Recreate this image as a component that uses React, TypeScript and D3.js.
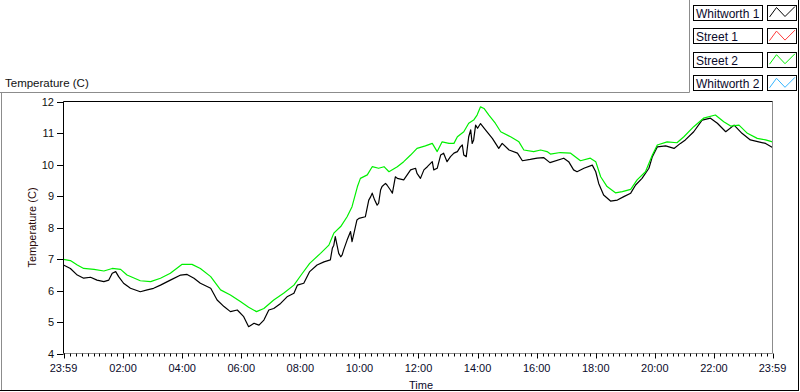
import React from "react";
import * as d3 from "d3";

// ---- data (minutes elapsed since 23:59 start) ----
const whitworth1Minutes = [0, 14, 28, 41, 55, 68, 82, 92, 99, 106, 112, 122, 136, 156, 170, 183, 197, 217, 238, 251, 265, 278, 299, 312, 326, 339, 353, 366, 376, 387, 397, 407, 417, 427, 441, 454, 468, 475, 488, 500, 515, 529, 542, 546, 549, 552, 559, 563, 566, 569, 576, 583, 586, 590, 596, 600, 613, 620, 624, 627, 632, 637, 640, 644, 647, 654, 657, 664, 668, 674, 678, 691, 705, 715, 718, 725, 732, 739, 749, 752, 759, 766, 772, 779, 786, 793, 800, 806, 810, 813, 818, 823, 827, 830, 833, 837, 841, 847, 857, 871, 884, 891, 905, 922, 932, 948, 962, 975, 988, 1016, 1026, 1036, 1043, 1057, 1074, 1081, 1087, 1097, 1111, 1125, 1138, 1152, 1162, 1175, 1189, 1196, 1206, 1223, 1240, 1253, 1263, 1280, 1297, 1314, 1328, 1345, 1362, 1378, 1395, 1412, 1426, 1440];
const whitworth1Temps = [6.81, 6.70, 6.49, 6.39, 6.42, 6.33, 6.28, 6.33, 6.55, 6.60, 6.44, 6.23, 6.07, 5.96, 6.02, 6.07, 6.17, 6.33, 6.49, 6.51, 6.39, 6.23, 6.07, 5.70, 5.49, 5.33, 5.38, 5.17, 4.85, 4.96, 4.90, 5.06, 5.38, 5.43, 5.59, 5.80, 5.91, 6.17, 6.23, 6.60, 6.81, 6.91, 6.97, 7.34, 7.44, 7.71, 7.18, 7.07, 7.13, 7.29, 7.60, 7.87, 7.55, 7.82, 8.24, 8.29, 8.34, 8.87, 8.98, 9.09, 8.87, 8.71, 8.77, 9.19, 9.30, 9.40, 9.35, 9.19, 9.09, 9.61, 9.56, 9.51, 9.83, 9.88, 9.72, 9.56, 9.83, 9.93, 10.09, 9.83, 9.88, 10.30, 10.36, 10.09, 10.25, 10.36, 10.41, 10.56, 10.62, 10.30, 10.25, 10.88, 11.10, 10.67, 10.78, 11.25, 11.15, 11.30, 11.10, 10.83, 10.51, 10.67, 10.46, 10.36, 10.12, 10.16, 10.20, 10.22, 10.06, 10.20, 10.09, 9.83, 9.77, 9.88, 9.98, 9.77, 9.40, 9.03, 8.84, 8.87, 8.98, 9.09, 9.35, 9.56, 9.88, 10.25, 10.56, 10.59, 10.51, 10.67, 10.78, 11.04, 11.41, 11.47, 11.31, 11.04, 11.25, 10.99, 10.78, 10.72, 10.67, 10.54];

const street2Minutes = [0, 14, 28, 41, 62, 82, 99, 116, 129, 156, 177, 197, 217, 241, 261, 278, 299, 319, 339, 360, 376, 392, 407, 427, 447, 468, 483, 500, 522, 539, 549, 563, 576, 586, 597, 603, 617, 627, 640, 651, 661, 678, 691, 705, 718, 735, 749, 759, 769, 783, 793, 800, 813, 823, 833, 840, 847, 854, 864, 877, 888, 908, 925, 935, 955, 969, 982, 989, 1009, 1030, 1050, 1070, 1081, 1091, 1104, 1121, 1135, 1152, 1165, 1182, 1196, 1206, 1226, 1246, 1260, 1280, 1300, 1324, 1341, 1355, 1372, 1389, 1409, 1426, 1440];
const street2Temps = [6.99, 6.95, 6.81, 6.70, 6.67, 6.62, 6.70, 6.67, 6.49, 6.31, 6.28, 6.39, 6.55, 6.83, 6.83, 6.70, 6.44, 6.02, 5.86, 5.64, 5.47, 5.33, 5.43, 5.70, 5.91, 6.17, 6.50, 6.86, 7.18, 7.44, 7.82, 8.03, 8.34, 8.66, 9.30, 9.56, 9.67, 9.93, 9.88, 9.93, 9.77, 9.93, 10.09, 10.30, 10.51, 10.59, 10.67, 10.41, 10.72, 10.67, 10.67, 10.88, 11.04, 11.31, 11.41, 11.57, 11.83, 11.78, 11.57, 11.31, 11.04, 10.88, 10.72, 10.46, 10.41, 10.46, 10.41, 10.33, 10.38, 10.36, 10.12, 10.20, 10.09, 9.61, 9.30, 9.10, 9.14, 9.21, 9.51, 9.77, 10.30, 10.62, 10.72, 10.69, 10.88, 11.20, 11.47, 11.57, 11.36, 11.22, 11.25, 10.99, 10.83, 10.78, 10.72];

const legendNames = ["Whitworth 1", "Street 1", "Street 2", "Whitworth 2"];
const legendColors = ["#000000", "#ff3b3b", "#00f000", "#33b5ff"];

const xTickLabels = ["23:59", "02:00", "04:00", "06:00", "08:00", "10:00", "12:00", "14:00", "16:00", "18:00", "20:00", "22:00", "23:59"];
const yTickValues = [4, 5, 6, 7, 8, 9, 10, 11, 12];

const FONT = "'Liberation Sans', Arial, sans-serif";

export default function App() {
  const W = 800, H = 392;
  const plot = { left: 63.5, right: 772.5, top: 101.5, bottom: 353.5 };
  const start = new Date(2024, 0, 1, 23, 59);
  const end = new Date(start.getTime() + 1440 * 60000);
  const toDate = (m: number) => new Date(start.getTime() + m * 60000);

  const x = d3.scaleTime().domain([start, end]).range([plot.left, plot.right]);
  const y = d3.scaleLinear().domain([4, 12]).range([plot.bottom, plot.top]);

  const majorDates = xTickLabels.map((lab, i) => {
    if (i === 0) return start;
    if (i === xTickLabels.length - 1) return end;
    const [hh, mm] = lab.split(":").map(Number);
    return new Date(2024, 0, 2, hh, mm);
  });
  const minorDates = d3.timeMinute.every(12)!.range(start, end);

  const line = d3
    .line<[number, number]>()
    .x((d) => x(toDate(d[0])))
    .y((d) => y(d[1]));

  const w1 = whitworth1Minutes.map((m, i) => [m, whitworth1Temps[i]] as [number, number]);
  const s2 = street2Minutes.map((m, i) => [m, street2Temps[i]] as [number, number]);

  const legendX = 693.5;
  const legendRow = 23.6;

  return (
    <svg
      width={W}
      height={H}
      style={{ position: "absolute", left: 0, top: 0, background: "#fff" }}
      fontFamily={FONT}
    >
      <rect x={0} y={0} width={W} height={H} fill="#fff" />
      {/* outer panel */}
      <line x1={0} x2={689.5} y1={92.5} y2={92.5} stroke="#8c8c8c" />
      <line x1={1.5} x2={1.5} y1={92.5} y2={390.5} stroke="#8c8c8c" />
      <line x1={689.5} x2={689.5} y1={0} y2={92.5} stroke="#8c8c8c" />
      <line x1={0} x2={799} y1={390.5} y2={390.5} stroke="#000" />
      <line x1={798.5} x2={798.5} y1={0} y2={391} stroke="#000" />

      <text x={5} y={87} fontSize={11.5} fill="#111">Temperature (C)</text>

      {/* legend */}
      {legendNames.map((name, i) => {
        const top = 4.5 + i * legendRow;
        const sx = 767.5;
        const pts: [number, number][] = [
          [sx + 2, top + 12.5],
          [sx + 9, top + 3],
          [sx + 17.5, top + 12],
          [sx + 27.5, top + 2],
        ];
        return (
          <g key={name}>
            <rect x={legendX} y={Math.round(top) + 0.5} width={69} height={15} fill="#fff" stroke="#000" />
            <text x={legendX + 2.5} y={Math.round(top) + 12.5} fontSize={12} fill="#0a0a2a">{name}</text>
            <rect x={sx} y={Math.round(top) + 0.5} width={29} height={15} fill="#fff" stroke="#000" />
            <path d={d3.line()(pts) || ""} fill="none" stroke={legendColors[i]} strokeWidth={1} />
          </g>
        );
      })}

      {/* plot area */}
      <rect x={plot.left} y={plot.top} width={plot.right - plot.left} height={plot.bottom - plot.top} fill="#fff" />
      <defs>
        <clipPath id="plotClip">
          <rect x={plot.left} y={plot.top - 1} width={plot.right - plot.left} height={plot.bottom - plot.top + 2} />
        </clipPath>
      </defs>
      <g clipPath="url(#plotClip)">
        <path d={line(w1) || ""} fill="none" stroke={legendColors[0]} strokeWidth={1.2} strokeLinejoin="round" />
        <path d={line(s2) || ""} fill="none" stroke={legendColors[2]} strokeWidth={1.2} strokeLinejoin="round" />
      </g>
      {/* plot border */}
      <line x1={plot.right} x2={plot.right} y1={plot.top} y2={plot.bottom} stroke="#8c8c8c" />
      <line x1={plot.left} x2={plot.right} y1={plot.bottom} y2={plot.bottom} stroke="#8c8c8c" />
      <line x1={plot.left} x2={plot.right} y1={plot.top} y2={plot.top} stroke="#000" />
      <line x1={plot.left} x2={plot.left} y1={plot.top} y2={plot.bottom} stroke="#000" />

      {/* y axis */}
      {yTickValues.map((v) => (
        <g key={v}>
          <line x1={57} x2={plot.left} y1={Math.round(y(v)) + 0.5} y2={Math.round(y(v)) + 0.5} stroke="#000" />
          <text x={54} y={y(v) + 4} textAnchor="end" fontSize={11} fill="#111">{v}</text>
        </g>
      ))}
      <text
        transform={`translate(36,${(plot.top + plot.bottom) / 2}) rotate(-90)`}
        textAnchor="middle"
        fontSize={11}
        fill="#2a0a0a"
      >
        Temperature (C)
      </text>

      {/* x axis */}
      {minorDates.map((d, i) => (
        <line key={"m" + i} x1={Math.round(x(d)) + 0.5} x2={Math.round(x(d)) + 0.5} y1={plot.bottom} y2={plot.bottom + 3} stroke="#000" />
      ))}
      {majorDates.map((d, i) => (
        <g key={"M" + i}>
          <line x1={Math.round(x(d)) + 0.5} x2={Math.round(x(d)) + 0.5} y1={plot.bottom} y2={plot.bottom + 5} stroke="#000" />
          <text x={x(d)} y={371.5} textAnchor="middle" fontSize={11} fill="#0a0a2a">{xTickLabels[i]}</text>
        </g>
      ))}
      <text x={(plot.left + plot.right) / 2 + 3} y={388.5} textAnchor="middle" fontSize={11} fill="#0a0a2a">Time</text>
    </svg>
  );
}
